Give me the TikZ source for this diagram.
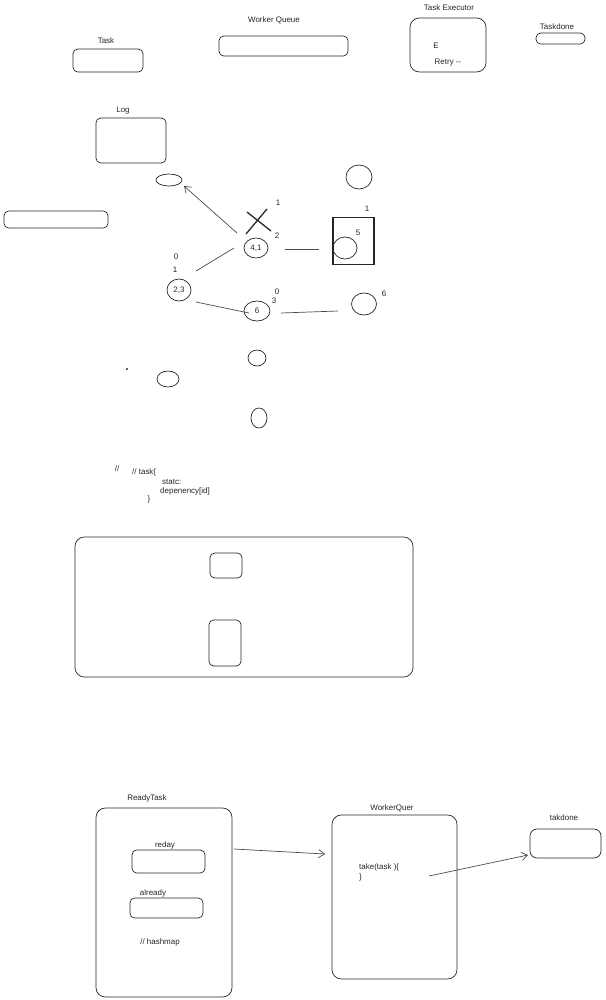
\documentclass[tikz,border=0pt]{standalone}
\usepackage{fontspec}
\setmainfont{Liberation Sans}
\usetikzlibrary{shapes.geometric,arrows.meta}
\newcommand{\px}{0.03cm}

\begin{document}
\begin{tikzpicture}[x=\px,y=-\px,
  every node/.style={font=\fontsize{6.8}{8}\selectfont, text=black!85, inner sep=0pt},
  box/.style 2 args={draw=black!85, rounded corners=4pt, line width=0.6pt,
    minimum width=#1*\px, minimum height=#2*\px},
  blob/.style 2 args={draw=black!85, ellipse, line width=0.6pt,
    minimum width=#1*\px, minimum height=#2*\px},
  wire/.style={draw=black!70, line width=0.6pt},
  barb/.style={wire, -{Straight Barb[length=5pt,width=7pt]}}]
  \useasboundingbox (0,0) rectangle (605,1000);

  \node (tasklbl) at (106,41) {Task};
  \node[box={70}{23}] (task) at (108,60.5) {};
  \node (wqlbl) at (274,20) {Worker Queue};
  \node[box={129}{20}] (wq) at (283.5,46) {};
  \node (exlbl) at (449,8) {Task Executor};
  \node[box={76}{54}, rounded corners=8pt] (exec) at (448,45) {};
  \node (elbl) at (436,46) {E};
  \node (retry) at (448,63) {Retry -{}-};
  \node (donelbl) at (557,27) {Taskdone};
  \node[box={49}{11}] (done) at (560.5,38.5) {};
  \node (loglbl) at (123,111) {Log};
  \node[box={70}{45}] (log) at (131,140.5) {};
  \node[blob={26}{12}] (e1) at (169,180) {};
  \node[box={104}{17}] (bar) at (56,219.5) {};

  \node[blob={26}{24}] (e2) at (359,177) {};
  \draw[line width=1.1pt, black!85] (246,234) -- (267,209) (247,212) -- (271,231);
  \node (n1a) at (278,203) {1};
  \node (n2a) at (277,236) {2};
  \node[blob={24}{20}] (c41) at (256,248) {4,1};
  \node[draw=black!85, line width=1.3pt, minimum width=41*\px, minimum height=47*\px] (sq) at (353.5,241) {};
  \node[blob={24}{22}] (c5) at (345,248) {};
  \node (n5) at (358,233) {5};
  \node (n1b) at (367,209) {1};
  \node (n0a) at (176,257) {0};
  \node (n1c) at (175,270) {1};
  \node[blob={24}{22}] (c23) at (179,290) {2,3};
  \node[blob={26}{20}] (c6) at (257,311) {6};
  \node (n0b) at (277,292) {0};
  \node (n3) at (274,301) {3};
  \node[blob={25}{22}] (c7) at (364,304) {};
  \node (n6) at (384,294) {6};
  \node[blob={18}{16}] (e3) at (257,358) {};
  \fill[black!85] (127,369) circle (0.9pt);
  \node[blob={22}{16}] (e4) at (168,379) {};
  \node[blob={16}{20}] (e5) at (259,418) {};

  \coordinate (a1) at (237,233);
  \coordinate (a2) at (184,186);
  \draw[barb] (a1) -- (a2);
  \coordinate (l1) at (196,271);
  \coordinate (l2) at (234,248);
  \draw[wire] (l1) -- (l2);
  \coordinate (l3) at (285,249);
  \coordinate (l4) at (319,249);
  \draw[wire] (l3) -- (l4);
  \coordinate (l5) at (196,302);
  \coordinate (l6) at (249,313);
  \draw[wire] (l5) -- (l6);
  \coordinate (l7) at (281,313);
  \coordinate (l8) at (338,311);
  \draw[wire] (l7) -- (l8);

  \node (slash) at (117,469) {//};
  \node[anchor=west] (code1) at (132,472) {// task\{};
  \node[anchor=west] (code2) at (162,482) {statc:};
  \node[anchor=west] (code3) at (160,491) {depenency[id]};
  \node (code4) at (149,499) {\}};

  \node[box={338}{140}, rounded corners=8pt] (frame) at (244,607) {};
  \node[box={32}{25}] (inner1) at (226,565.5) {};
  \node[box={32}{46}] (inner2) at (225,643) {};

  \node (rtlbl) at (147,798) {ReadyTask};
  \node[box={136}{189}, rounded corners=8pt] (ready) at (164,902.5) {};
  \node (redaylbl) at (165,845) {reday};
  \node[box={73}{23}] (reday) at (168.5,861.5) {};
  \node (alrlbl) at (153,893) {already};
  \node[box={73}{20}] (already) at (166.5,908) {};
  \node (hash) at (160,942) {// hashmap};
  \node (wq2lbl) at (392,808) {WorkerQuer};
  \node[box={125}{164}, rounded corners=8pt] (wq2) at (394.5,897) {};
  \node[anchor=west] (take) at (359,867) {take(task )\{};
  \node[anchor=west] (brace) at (359,877) {\}};
  \node (tdlbl) at (564,818) {takdone};
  \node[box={71}{29}, rounded corners=6pt] (takdone) at (565.5,843.5) {};

  \coordinate (b1) at (234,849);
  \coordinate (b2) at (325,854);
  \draw[barb] (b1) -- (b2);
  \coordinate (b3) at (429,876);
  \coordinate (b4) at (528,855);
  \draw[barb] (b3) -- (b4);
\end{tikzpicture}
\end{document}
